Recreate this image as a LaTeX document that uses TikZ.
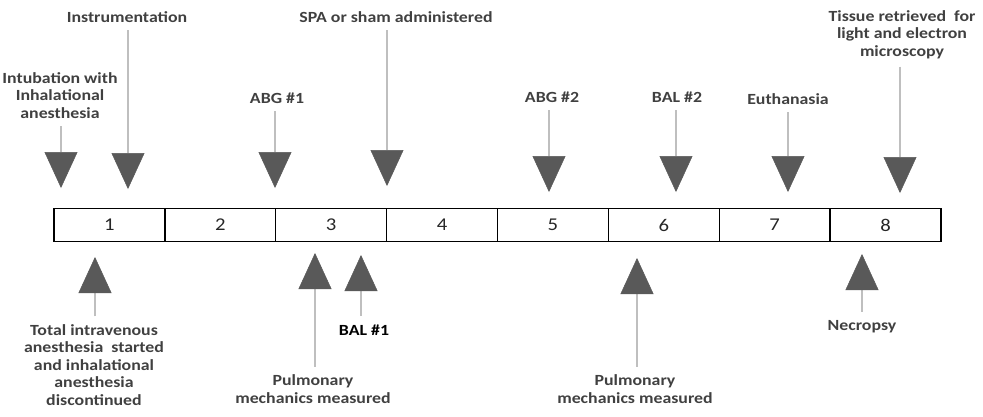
\documentclass[tikz,border=0pt]{standalone}
\usepackage{fontspec}
\setmainfont{Carlito}[FakeStretch=1.15]
\usetikzlibrary{arrows.meta}
\definecolor{labgray}{HTML}{404040}
\definecolor{headgray}{HTML}{595959}
\definecolor{stemgray}{HTML}{BFBFBF}
\tikzset{
  daybox/.style={draw=black, line width=1.3pt, minimum width=110.9pt, minimum height=33pt,
    inner sep=0pt, outer sep=0pt, font=\fontsize{18}{20}\selectfont, text=black!85},
  evlabel/.style={font=\fontsize{15.5}{17.4}\selectfont\bfseries, text=labgray,
    align=center, inner sep=0pt, anchor=base},
  evarrow/.style={draw=stemgray, line width=2pt, shorten <=8pt,
    -{Triangle[length=36pt, width=33pt, fill=headgray, color=headgray, line width=0.5pt]}},
}
\begin{document}
\begin{tikzpicture}[x=1pt, y=-1pt]
    \useasboundingbox (0,0) rectangle (983,416);
    % days
    \foreach \d in {1,...,8}
        \node[daybox] (day\d) at ({54+110.875*(\d-0.5)},225) {\d};

    % events above the line (base = last line)
    \node[evlabel] (lIntub) at (60,118) {Intubation with\\Inhalational\\anesthesia};
    \node[evlabel] (lInstr) at (127,22) {Instrumentation};
    \node[evlabel] (lAbgA) at (277,103) {ABG \#1};
    \node[evlabel] (lSpa) at (396,22) {SPA or sham administered};
    \node[evlabel] (lAbgB) at (552,102) {ABG \#2};
    \node[evlabel] (lBalB) at (677,102) {BAL \#2};
    \node[evlabel] (lEuth) at (788,104) {Euthanasia};
    \node[evlabel] (lTiss) at (902,56) {Tissue retrieved~ for\\light and electron\\microscopy};

    \coordinate (tIntub) at (61,188);
    \coordinate (tInstr) at (128,189);
    \coordinate (tAbgA) at (275,188);
    \coordinate (tSpa) at (387,186);
    \coordinate (tAbgB) at (549,192);
    \coordinate (tBalB) at (676,192);
    \coordinate (tEuth) at (788,192);
    \coordinate (tTiss) at (900,193);

    \foreach \e in {Intub,Instr,AbgA,Spa,AbgB,BalB,Euth,Tiss}
        \draw[evarrow] (l\e.south -| t\e) -- (t\e);

    % events below the line
    \node[evlabel] (lTotal) at (94,405) {Total intravenous\\anesthesia~ started\\and inhalational\\anesthesia\\discontinued};
    \node[evlabel] (lPulmA) at (313,403) {Pulmonary\\mechanics measured};
    \node[evlabel, text=black] (lBalA) at (364,335) {BAL \#1};
    \node[evlabel] (lPulmB) at (635,403) {Pulmonary\\mechanics measured};
    \node[evlabel] (lNecr) at (862,330) {Necropsy};

    \coordinate (tTotal) at (95,257);
    \coordinate (tPulmA) at (315,253);
    \coordinate (tBalA) at (361,255);
    \coordinate (tPulmB) at (637,258);
    \coordinate (tNecr) at (862,254);

    \foreach \e in {Total,PulmA,BalA,PulmB,Necr}
        \draw[evarrow] (l\e.north -| t\e) -- (t\e);
\end{tikzpicture}
\end{document}
